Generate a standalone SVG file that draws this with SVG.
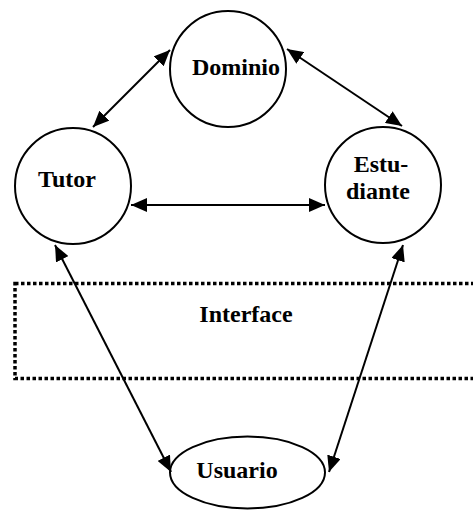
<svg xmlns="http://www.w3.org/2000/svg" width="473" height="510" viewBox="0 0 473 510">
<defs>
<style>
.node{fill:#fff;stroke:#000;stroke-width:2}
.lbl{font-family:"Liberation Serif","Times New Roman",serif;font-weight:bold;font-size:24px;fill:#000;text-anchor:middle}
.con{stroke:#000;stroke-width:2;fill:none;marker-start:url(#ah);marker-end:url(#ah)}
.iface{fill:none;stroke:#000;stroke-width:3.5;stroke-dasharray:3.5 2.5}
</style>
<marker id="ah" viewBox="0 0 16 14" refX="16" refY="7" markerWidth="16" markerHeight="14" markerUnits="userSpaceOnUse" orient="auto-start-reverse">
<path d="M0,0 L16,7 L0,14 z" fill="#000"/>
</marker>
</defs>
<rect fill="#fff" x="0" y="0" width="473" height="510"/>
<g id="interface">
<rect class="iface" x="15" y="283.5" width="470" height="95"/>
<text class="lbl" x="246" y="322">Interface</text>
</g>
<g id="dominio">
<circle class="node" cx="228" cy="69" r="58"/>
<text class="lbl" x="236" y="75">Dominio</text>
</g>
<g id="tutor">
<circle class="node" cx="73" cy="186" r="58"/>
<text class="lbl" x="67" y="187">Tutor</text>
</g>
<g id="estudiante">
<circle class="node" cx="383" cy="185" r="58"/>
<text class="lbl" x="381" y="172">Estu-</text>
<text class="lbl" x="378" y="199">diante</text>
</g>
<g id="usuario">
<ellipse class="node" cx="247.5" cy="472.5" rx="77.5" ry="36"/>
<text class="lbl" x="237" y="478">Usuario</text>
</g>
<g id="connectors">
<line class="con" x1="93" y1="127" x2="170" y2="50"/>
<line class="con" x1="287" y1="49" x2="402" y2="126"/>
<line class="con" x1="131" y1="205" x2="325" y2="205"/>
<line class="con" x1="55" y1="245" x2="171" y2="472"/>
<line class="con" x1="403" y1="245" x2="329" y2="472"/>
</g>
</svg>
